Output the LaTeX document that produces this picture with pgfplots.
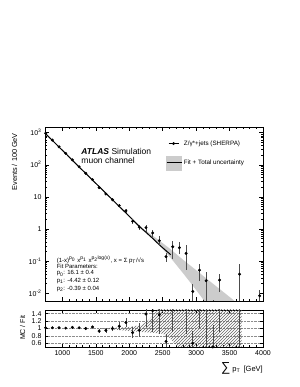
\documentclass[border=0pt]{standalone}
\usepackage{fontspec}
\setmainfont{Liberation Sans}
\usepackage{pgfplots}
\usepackage{pgfplotstable}
\pgfplotsset{compat=1.18}
\usetikzlibrary{patterns}

\pgfplotstableread{
x y ep em
750 952 9.5 9.5
850 587 7 7
950 362 5.4 5.4
1050 226 4.5 4.5
1150 142 3.6 3.6
1250 86.7 2.6 2.6
1350 54.2 1.9 1.9
1450 34.4 1.4 1.4
1550 19.4 0.94 0.94
1650 12.3 0.72 0.72
1750 8.13 0.66 0.66
1850 5.31 0.55 0.55
1950 3.67 0.45 0.45
2050 1.74 0.28 0.28
2150 1.14 0.22 0.22
2250 1.10 0.27 0.27
2350 0.75 0.21 0.21
2450 0.43 0.19 0.13
2550 0.137 0.04 0.046
2650 0.28 0.15 0.16
2750 0.26 0.12 0.094
2850 0.174 0.14 0.123
2950 0.0113 0.0075 0.0103
3050 0.052 0.029 0.028
3150 0.0245 0.02 0.0235
3250 0.004 0.002 0.003
3350 0.0256 0.015 0.015
3650 0.039 0.042 0.038
3950 0.0083 0.004 0.0073
}\datatab

\pgfplotstableread{
x y
740 960
850 575
950 355
1050 224
1150 138
1250 85
1350 53.7
1450 33.1
1550 20.9
1650 12.9
1750 8.13
1850 5.01
1950 3.16
2050 1.95
2150 1.20
2250 0.79
2350 0.51
2450 0.32
2550 0.21
2620 0.158
}\fittab

% band polygon: upper edge forward, lower edge backward
\pgfplotstableread{
x y
740 990
1000 290
1250 87
1500 27.0
1750 8.4
2000 2.6
2200 1.05
2400 0.52
2600 0.25
2800 0.112
3000 0.052
3200 0.024
3400 0.0112
3600 0.0052
3700 0.0035
3700 0.001
3400 0.001
3200 0.0035
3000 0.0126
2800 0.043
2600 0.14
2400 0.40
2200 0.9
2000 2.35
1750 7.8
1500 25.6
1250 83
1000 275
740 930
}\bandtab

\pgfplotstableread{
x r e
750 1.02 0.01
850 1.02 0.012
950 1.02 0.015
1050 1.01 0.02
1150 1.03 0.025
1250 1.02 0.03
1350 1.00 0.035
1450 1.04 0.04
1550 0.93 0.05
1650 0.95 0.06
1750 1.00 0.08
1850 1.06 0.11
1950 1.16 0.13
2050 0.89 0.15
2150 0.95 0.19
2250 1.39 0.36
2350 1.48 0.58
2450 1.37 0.51
2550 0.65 0.2
2650 2.0 1.1
2750 2.9 1.2
2850 2.9 2.05
2950 0.6 0.32
3050 3.0 2.0
3150 3.0 2.9
3250 0.50 0.6
3350 3.0 2.1
3650 3.0 3.0
}\ratiotab

\pgfplotstableread{
x y
1530 1.005
1800 1.02
2000 1.04
2200 1.1
2300 1.25
2450 1.55
3680 1.55
3680 0.45
2750 0.45
2700 0.55
2600 0.75
2500 0.86
2300 0.89
2000 0.93
1800 0.97
1530 0.995
}\rbandtab

\begin{document}
\begin{tikzpicture}
\path[use as bounding box] (0pt,0pt) rectangle (299pt,387pt);
\begin{axis}[
  at={(45pt,86pt)}, anchor=south west,
  scale only axis, width=218pt, height=174pt,
  ymode=log, xmin=740, xmax=4000, ymin=0.0057, ymax=1500,
  xtick={1000,1500,2000,2500,3000,3500,4000}, xticklabels={},
  minor x tick num=4,
  ytick={0.01,0.1,1,10,100,1000},
  yticklabels={10\textsuperscript{-2},10\textsuperscript{-1},1,10,10\textsuperscript{2},10\textsuperscript{3}},
  yticklabel style={font=\fontsize{7}{8}\selectfont},
  major tick length=4pt, minor tick length=2pt,
  axis line style={line width=0.7pt},
  tick style={black, line width=0.4pt},
  legend style={at={(0.555,0.935)}, anchor=north west, draw=none, fill=none,
    font=\fontsize{6.3}{8}\selectfont, row sep=7pt, inner sep=0pt},
  legend cell align=left,
  clip mode=individual,
]
\addplot[fill=black!20, draw=none, forget plot] table[x=x,y=y] {\bandtab} -- cycle;
\addplot[black, line width=1pt, forget plot] table[x=x,y=y] {\fittab};
\addplot[only marks, mark=*, mark size=1.3pt, black, forget plot,
  error bars/.cd, y dir=both, y explicit, error bar style={black!70, line width=0.6pt}, error mark=none]
  table[x=x, y=y, y error plus=ep, y error minus=em] {\datatab};
\addlegendimage{legend image code/.code={\draw[black, line width=0.6pt] (0pt,0pt) -- (10pt,0pt); \fill[black] (5pt,0pt) circle (1.3pt);}}
\addlegendentry{Z/γ*+jets (SHERPA)}
\addlegendimage{legend image code/.code={\fill[black!20] (-2pt,-7pt) rectangle (13pt,7pt); \draw[black, line width=0.8pt] (-2pt,0pt) -- (13pt,0pt);}}
\addlegendentry{Fit + Total uncertainty}
\node[anchor=west, font=\fontsize{8.5}{10}\selectfont] at (rel axis cs:0.151,0.862) {\textbf{\textit{ATLAS}} Simulation};
\node[anchor=west, font=\fontsize{8.5}{10}\selectfont] at (rel axis cs:0.151,0.805) {muon channel};
\node[anchor=west, font=\fontsize{6}{7}\selectfont, inner sep=0pt] at (rel axis cs:0.053,0.236) {(1-x)\textsuperscript{p\textsubscript{0}} x\textsuperscript{p\textsubscript{1}} x\textsuperscript{p\textsubscript{2}log(x)}, x = Σ p\textsubscript{T}/√s};
\node[anchor=west, font=\fontsize{6}{7}\selectfont, inner sep=0pt] at (rel axis cs:0.053,0.201) {Fit Parameters:};
\node[anchor=west, font=\fontsize{6}{7}\selectfont, inner sep=0pt] at (rel axis cs:0.053,0.158) {p\textsubscript{0}: 16.1 ± 0.4};
\node[anchor=west, font=\fontsize{6}{7}\selectfont, inner sep=0pt] at (rel axis cs:0.053,0.115) {p\textsubscript{1}: -4.42 ± 0.12};
\node[anchor=west, font=\fontsize{6}{7}\selectfont, inner sep=0pt] at (rel axis cs:0.053,0.069) {p\textsubscript{2}: -0.39 ± 0.04};
\node[rotate=90, anchor=east, font=\fontsize{7.3}{8}\selectfont] at (rel axis cs:-0.14,0.985) {Events / 100 GeV};
\end{axis}

\begin{axis}[
  at={(45pt,40pt)}, anchor=south west,
  scale only axis, width=218pt, height=37pt,
  xmin=740, xmax=4000, ymin=0.5, ymax=1.5,
  xtick={1000,1500,2000,2500,3000,3500,4000},
  xticklabels={1000,1500,2000,2500,3000,3500,4000},
  xticklabel style={font=\fontsize{7}{8}\selectfont},
  minor x tick num=4,
  ytick={0.6,0.8,1,1.2,1.4}, yticklabels={0.6,0.8,1,1.2,1.4},
  yticklabel style={font=\fontsize{7}{8}\selectfont},
  ymajorgrids, grid style={densely dotted, black!45},
  major tick length=3pt, minor tick length=1.5pt,
  axis line style={line width=0.7pt},
  tick style={black, line width=0.4pt},
  clip mode=individual,
]
\addplot[pattern=north east lines, pattern color=black!60, draw=none] table[x=x,y=y] {\rbandtab} -- cycle;
\addplot[only marks, mark=*, mark size=1.3pt, black,
  error bars/.cd, y dir=both, y explicit, error bar style={black!70, line width=0.6pt}, error mark=none]
  table[x=x, y=r, y error=e] {\ratiotab};
\node[rotate=90, anchor=east, font=\fontsize{7}{8}\selectfont] at (rel axis cs:-0.103,0.95) {MC / Fit};
\node[anchor=east, inner sep=0pt, font=\fontsize{7.5}{8}\selectfont] at (rel axis cs:1,-0.57) {{\fontsize{13}{13}\selectfont ∑} p\textsubscript{T}\, [GeV]};
\end{axis}
\end{tikzpicture}
\end{document}
